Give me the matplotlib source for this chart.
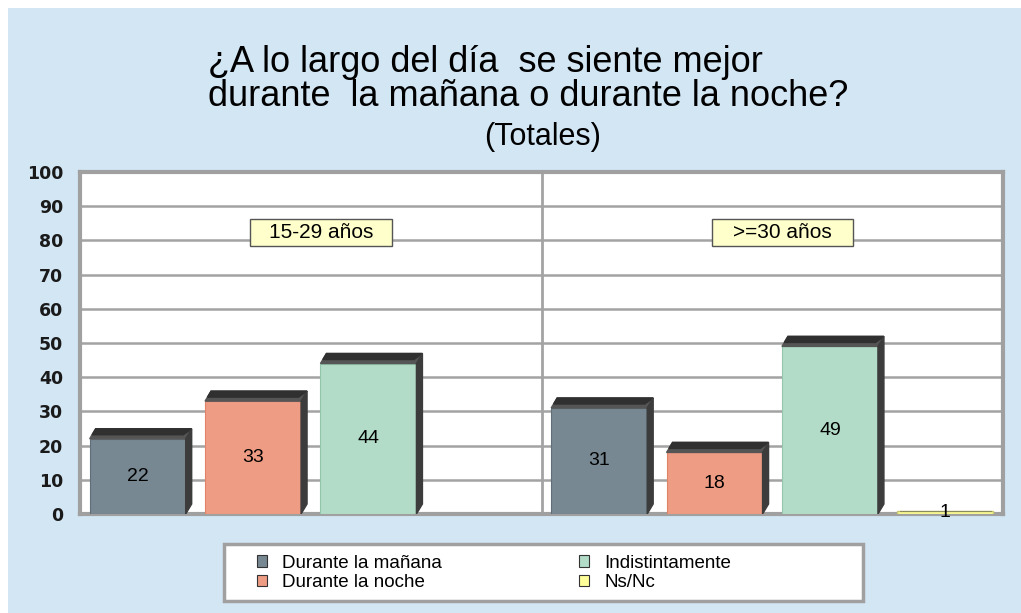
import numpy as np
import matplotlib.pyplot as plt
from matplotlib.patches import Rectangle, Patch

# data
grupos = ["15-29 años", ">=30 años"]
series = ["Durante la mañana", "Durante la noche", "Indistintamente", "Ns/Nc"]
manana = [22, 31]
noche = [33, 18]
indistinto = [44, 49]
nsnc = [np.nan, 1]
colores = ["#778892", "#ee9c84", "#b2dcc7", "#ffff99"]
bordes = ["#5f6e78", "#e08468", "#93c7ac", "#c8c870"]

W, H = 1021, 613
fig = plt.figure(figsize=(W / 100, H / 100), dpi=100, facecolor="white")
fig.patches.append(Rectangle((8 / W, 0), 1 - 8 / W, 1 - 8 / H, transform=fig.transFigure,
                             facecolor="#d2e6f4", edgecolor="none", zorder=-10))

ax = fig.add_axes([80 / W, 1 - 514 / H, 923 / W, 342 / H])
ax.set_facecolor("white")
ax.set_xlim(0, 2)
ax.set_ylim(0, 100)

# 3D depth in data units (pixel offsets converted)
dx = 6 * 2 / 923
dy = 10 * 100 / 342
ancho = 0.208

valores = [manana, noche, indistinto, nsnc]
for s, vals in enumerate(valores):
    for g, v in enumerate(vals):
        if np.isnan(v):
            continue
        xc = g + 0.125 + 0.25 * s
        x0, x1 = xc - ancho / 2, xc + ancho / 2
        if s == 3:
            ax.bar(xc, v, width=ancho, color=colores[s], edgecolor=bordes[s], lw=1, zorder=3)
            ax.plot([x0 + 0.005, x1 - 0.005], [v * 0.75, v * 0.75], color="#8a8a60", lw=0.8, zorder=4)
            ax.text(xc, v * 0.3, f"{v:g}", ha="center", va="center", fontsize=14,
                    family="Liberation Sans", zorder=5)
            continue
        ax.bar(xc, v, width=ancho, color=colores[s], edgecolor=bordes[s], lw=0.8, zorder=3)
        # top face
        ax.fill([x0, x0 + dx, x1 + dx, x1], [v, v + dy, v + dy, v],
                color="#555555", zorder=3)
        ax.fill([x0 + dx * 0.4, x0 + dx, x1 + dx, x1 - dx * 0.4],
                [v + dy * 0.4, v + dy, v + dy, v + dy * 0.4], color="#303030", zorder=3)
        # side face
        ax.fill([x1, x1 + dx, x1 + dx, x1], [0, dy, v + dy, v],
                color="#3c3c3c", zorder=3)
        ax.text(xc, v / 2, f"{v:g}", ha="center", va="center", fontsize=14,
                family="Liberation Sans", zorder=5)

# grid and frame
ax.set_yticks(np.arange(0, 101, 10))
ax.set_xticks([])
ax.yaxis.grid(True, color="#a3a3a3", lw=1.8, zorder=0)
ax.axvline(1, color="#a3a3a3", lw=2, zorder=1)
for sp in ax.spines.values():
    sp.set_color("#a0a0a0")
    sp.set_linewidth(3)
ax.tick_params(axis="y", length=0, pad=12)
for lab in ax.get_yticklabels():
    lab.set_fontfamily("DejaVu Sans")
    lab.set_fontweight("bold")
    lab.set_fontsize(12.5)
    lab.set_color("#1a1a1a")

# group label boxes
for g, nombre in enumerate(grupos):
    xc = g + 0.522
    ax.add_patch(Rectangle((xc - 0.153, 78.5), 0.306, 7.9, facecolor="#ffffcc",
                           edgecolor="#555555", lw=1, zorder=6))
    ax.text(xc, 82.4, nombre, ha="center", va="center", fontsize=15,
            family="Liberation Sans", zorder=7)

# titles
fig.text(208 / W, 1 - 62 / H, "¿A lo largo del día  se siente mejor", fontsize=26,
         family="Liberation Sans", ha="left", va="center", color="black")
fig.text(208 / W, 1 - 97 / H, "durante  la mañana o durante la noche?", fontsize=26,
         family="Liberation Sans", ha="left", va="center", color="black")
fig.text(543 / W, 1 - 137 / H, "(Totales)", fontsize=22, family="Liberation Sans",
         ha="center", va="center", color="black")

# legend
fig.patches.append(Rectangle((224 / W, 1 - 601 / H), 639 / W, 57 / H, transform=fig.transFigure,
                             facecolor="white", edgecolor="#a0a0a0", lw=2.5, zorder=1))
handles = [Patch(facecolor=c, edgecolor="#333333", lw=0.8) for c in colores]
leg = fig.legend(handles, series, ncol=2, loc="center left",
                 bbox_to_anchor=(257 / W, 1 - 573 / H), frameon=False,
                 prop={"family": "Liberation Sans", "size": 13.5},
                 handlelength=0.55, handleheight=0.55, handletextpad=0.8,
                 columnspacing=7.3, labelspacing=0.15, borderpad=0, borderaxespad=0)

fig.savefig("out.png", dpi=100, facecolor=fig.get_facecolor())
